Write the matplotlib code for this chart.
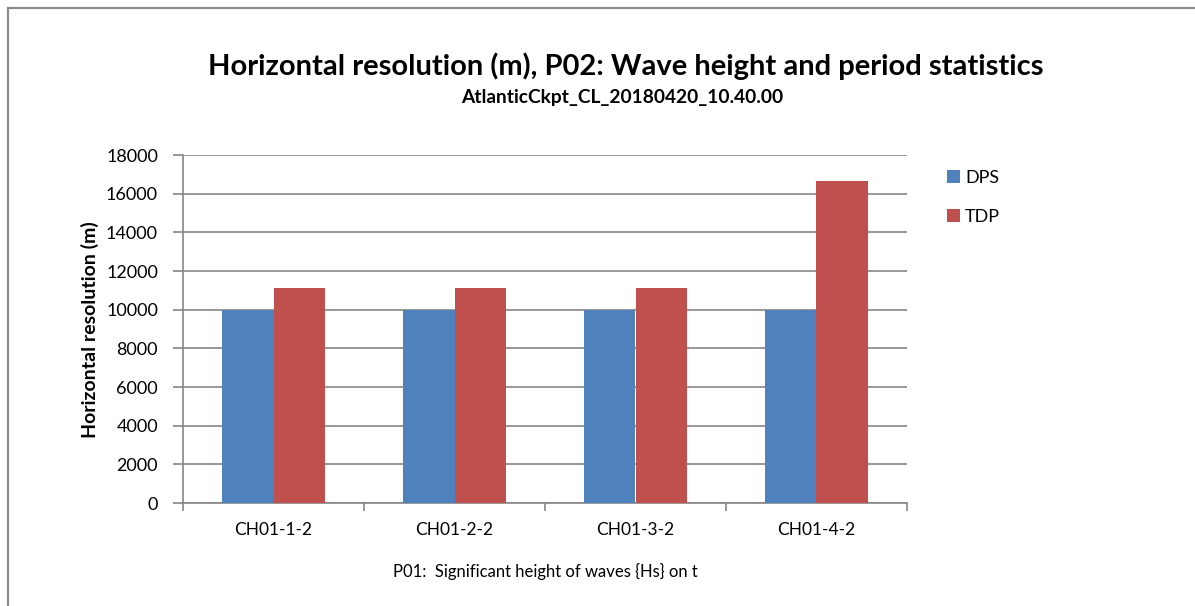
import matplotlib
matplotlib.use("Agg")
import matplotlib.pyplot as plt
import numpy as np
from matplotlib.lines import Line2D

plt.rcParams["font.family"] = ["Lato", "DejaVu Sans"]

categories = ["CH01-1-2", "CH01-2-2", "CH01-3-2", "CH01-4-2"]
dps = [10000, 10000, 10000, 10000]
tdp = [11120, 11120, 11120, 16660]
series_names = ["DPS", "TDP"]
colors = ["#4F81BD", "#C0504D"]
grid_color = "#868686"

W, H = 1195, 606
fig = plt.figure(figsize=(W / 100, H / 100), dpi=100)
ax = fig.add_axes([183 / W, 1 - 503 / H, (907 - 183) / W, (503 - 155) / H])

x = np.arange(len(categories))
w = 0.287
ax.bar(x - w / 2, dps, width=w, color=colors[0], label=series_names[0], zorder=3)
ax.bar(x + w / 2, tdp, width=w, color=colors[1], label=series_names[1], zorder=3)

ax.set_xlim(-0.5, len(categories) - 0.5)
ax.set_ylim(0, 18000)
ax.set_yticks(np.arange(0, 18001, 2000))
ax.set_xticks(x)
ax.set_xticklabels(categories, fontsize=12.5)
ax.set_xticks(np.arange(-0.5, len(categories), 1.0), minor=True)
ax.tick_params(axis="x", which="major", length=0, pad=14)
ax.tick_params(axis="x", which="minor", length=6, color=grid_color, width=1.2)
ax.tick_params(axis="y", length=7, color=grid_color, width=1.2, labelsize=13, pad=11)
ax.yaxis.grid(True, color=grid_color, linewidth=1.2, zorder=0)
for s in ["top", "right"]:
    ax.spines[s].set_visible(False)
for s in ["left", "bottom"]:
    ax.spines[s].set_color(grid_color)
    ax.spines[s].set_linewidth(1.2)

ax.set_ylabel("Horizontal resolution (m)", fontsize=14, fontweight="bold")
ax.yaxis.set_label_coords(99 / W, 1 - 330 / H, transform=fig.transFigure)
ax.set_xlabel("P01:  Significant height of waves {Hs} on t", fontsize=12, labelpad=18)

fig.text(626 / W, 1 - 66 / H, "Horizontal resolution (m), P02: Wave height and period statistics",
         ha="center", va="center", fontsize=21, fontweight="bold")
fig.text(622 / W, 1 - 98 / H, "AtlanticCkpt_CL_20180420_10.40.00",
         ha="center", va="center", fontsize=13.8, fontweight="bold")

leg = ax.legend(loc="upper left", bbox_to_anchor=(947 / W, 1 - 170 / H),
                bbox_transform=fig.transFigure, frameon=False, fontsize=13,
                handlelength=0.7, handleheight=0.7, handletextpad=0.3, labelspacing=1.25,
                borderpad=0, borderaxespad=0)

# outer chart frame (only top and left edges visible)
fig.add_artist(Line2D([8 / W, 1.0], [1 - 8 / H, 1 - 8 / H], transform=fig.transFigure,
                      color="#8c8c8c", linewidth=1.6))
fig.add_artist(Line2D([8 / W, 8 / W], [0.0, 1 - 8 / H], transform=fig.transFigure,
                      color="#8c8c8c", linewidth=1.6))

fig.savefig("out.png", dpi=100)
